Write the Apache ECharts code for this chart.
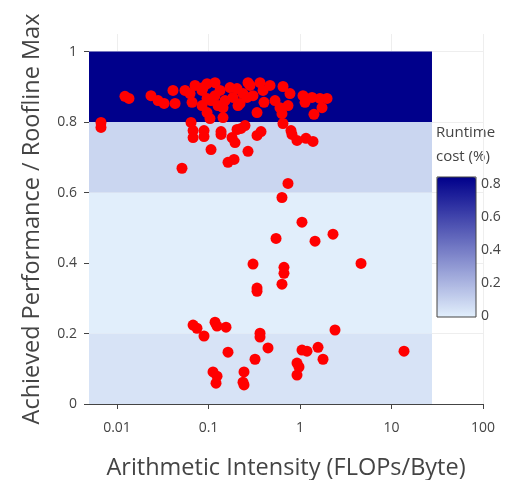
<!DOCTYPE html>
<html>
<head>
<meta charset="utf-8">
<script src="https://cdn.jsdelivr.net/npm/echarts@6/dist/echarts.min.js"></script>
<style>
  html, body { margin: 0; padding: 0; background: #fff; }
  #chart { width: 515px; height: 480px; }
</style>
</head>
<body>
<div id="chart"></div>
<script>
// kernel points: arithmetic intensity (FLOPs/Byte) and achieved fraction of roofline
const intensity = [
  // 0.8 - 1 band
  0.0122, 0.0135, 0.0235, 0.0281, 0.0327, 0.0409, 0.0431, 0.0553, 0.0628, 0.0661,
  0.0849, 0.0871, 0.0964, 0.1178, 0.0964, 0.0849, 0.0964, 0.1038, 0.1336, 0.144,
  0.144, 0.1718, 0.2049, 0.1853, 0.2101, 0.2382, 0.2209, 0.2634, 0.2701, 0.2841,
  0.3389, 0.3655, 0.3942, 0.4042, 0.47, 0.533, 0.604, 0.635, 0.652, 0.739,
  0.777, 1.078, 1.134, 1.353, 1.42, 1.655, 1.74, 1.973, 0.1178, 0.1515,
  0.0712, 0.1065, 0.127, 0.3065,
  // 0.6 - 0.8 band
  0.00668, 0.00668, 0.0644, 0.0678, 0.0678, 0.0893, 0.0893, 0.1065, 0.137, 0.137,
  0.1807, 0.1948, 0.2049, 0.2265, 0.2505, 0.2701, 0.1633, 0.19, 0.3389, 0.3748,
  0.6515, 0.7967, 0.817, 0.927, 1.163, 1.387, 0.0513, 0.739, 0.635,
  // below 0.6
  0.3065, 0.339, 0.339, 0.668, 0.668, 0.635, 0.547, 1.051, 1.459, 2.294,
  4.642, 0.0678, 0.0748, 0.0893, 0.1178, 0.1239, 0.1553, 0.1633, 0.112, 0.1239,
  0.1208, 0.3655, 0.3655, 0.447, 0.3223, 0.2443, 0.2382, 0.2443, 1.051, 1.192,
  1.574, 1.784, 0.927, 0.975, 0.927, 2.413, 13.7
];
const performance = [
  0.873, 0.867, 0.875, 0.861, 0.853, 0.890, 0.853, 0.890, 0.881, 0.856,
  0.890, 0.898, 0.909, 0.912, 0.867, 0.847, 0.827, 0.810, 0.890, 0.841,
  0.813, 0.898, 0.895, 0.870, 0.847, 0.881, 0.853, 0.870, 0.912, 0.904,
  0.827, 0.912, 0.890, 0.856, 0.904, 0.861, 0.841, 0.824, 0.901, 0.847,
  0.881, 0.875, 0.856, 0.870, 0.822, 0.867, 0.841, 0.867, 0.875, 0.861,
  0.904, 0.861, 0.847, 0.875,
  0.799, 0.785, 0.799, 0.776, 0.756, 0.776, 0.759, 0.722, 0.773, 0.765,
  0.756, 0.742, 0.779, 0.782, 0.790, 0.717, 0.686, 0.694, 0.762, 0.773,
  0.796, 0.776, 0.765, 0.748, 0.754, 0.745, 0.669, 0.626, 0.586,
  0.397, 0.329, 0.320, 0.388, 0.371, 0.340, 0.470, 0.516, 0.462, 0.482,
  0.399, 0.224, 0.215, 0.193, 0.232, 0.221, 0.218, 0.147, 0.091, 0.079,
  0.059, 0.201, 0.190, 0.159, 0.127, 0.091, 0.062, 0.054, 0.153, 0.150,
  0.161, 0.127, 0.116, 0.105, 0.082, 0.210, 0.150
];

// background heatmap: runtime cost per performance band
const bandEdges = [0, 0.2, 0.4, 0.6, 0.8, 1];
const bandCost = [0.04, 0.005, 0.005, 0.085, 0.8];
const bandXRange = [0.00494, 27.7];

const xTicks = [0.01, 0.1, 1, 10, 100];
const yTicks = [0, 0.2, 0.4, 0.6, 0.8, 1];
const costTicks = [0, 0.2, 0.4, 0.6, 0.8];

const font = '"Open Sans", "DejaVu Sans", sans-serif';
const textColor = '#444';

let bands = bandCost.map((c, i) => [bandXRange[0], bandXRange[1], bandEdges[i], bandEdges[i + 1], c]);
let points = intensity.map((x, i) => [x, performance[i]]);

let chartDom = document.getElementById('chart');
let myChart = echarts.init(chartDom, null, { renderer: 'canvas' });

let option = {
  animation: false,
  textStyle: { fontFamily: font, color: textColor },
  grid: [
    { left: 89, right: 32, top: 34, bottom: 76, outerBoundsMode: 'none', containLabel: false },
    // colorbar frame + labels
    { left: 437, top: 177, width: 39, height: 140, show: true, z: 10, outerBoundsMode: 'none',
      borderColor: '#444', borderWidth: 1, backgroundColor: 'transparent' }
  ],
  xAxis: [
    {
      type: 'log',
      min: 0.00494,
      max: 100,
      gridIndex: 0,
      name: 'Arithmetic Intensity (FLOPs/Byte)',
      nameLocation: 'middle',
      nameGap: 52,
      nameTextStyle: { fontSize: 23.5, color: textColor, fontFamily: font },
      axisLine: { show: true, lineStyle: { color: '#444', width: 1 } },
      axisTick: { show: true, length: 5, customValues: xTicks, lineStyle: { color: '#444' } },
      axisLabel: { customValues: xTicks, fontSize: 14, color: textColor, margin: 17,
        formatter: v => String(+v.toPrecision(3)) },
      splitLine: { show: true, lineStyle: { color: '#eeeeee', width: 1 } }
    },
    { type: 'value', gridIndex: 1, show: false, min: 0, max: 1 }
  ],
  yAxis: [
    {
      type: 'value',
      min: 0,
      max: 1.05,
      gridIndex: 0,
      name: 'Achieved Performance / Roofline Max',
      nameLocation: 'middle',
      nameGap: 45,
      nameTextStyle: { fontSize: 23.5, color: textColor, fontFamily: font },
      axisLine: { show: false },
      axisTick: { show: true, length: 5, customValues: yTicks, lineStyle: { color: '#444' } },
      axisLabel: { customValues: yTicks, fontSize: 14, color: textColor, margin: 12 },
      splitLine: { show: true, lineStyle: { color: '#eeeeee', width: 1 } }
    },
    {
      type: 'value',
      gridIndex: 1,
      position: 'right',
      min: -0.006,
      max: 0.842,
      axisLine: { show: false },
      axisTick: { show: false },
      splitLine: { show: false },
      axisLabel: { customValues: costTicks, fontSize: 14, color: textColor, margin: 5 }
    }
  ],
  visualMap: {
    type: 'continuous',
    seriesIndex: 0,
    dimension: 4,
    min: 0,
    max: 0.8,
    left: 437,
    top: 177,
    padding: 0,
    itemWidth: 39,
    itemHeight: 140,
    calculable: false,
    text: null,
    inRange: { color: ['#e2effc', '#00008b'] }
  },
  graphic: [
    {
      type: 'text',
      left: 436,
      top: 121,
      style: {
        text: 'Runtime\ncost (%)',
        font: '15px "Open Sans", sans-serif',
        fill: textColor,
        lineHeight: 24
      }
    }
  ],
  series: [
    {
      type: 'custom',
      xAxisIndex: 0,
      yAxisIndex: 0,
      data: bands,
      encode: { x: [0, 1], y: [2, 3] },
      renderItem: function (params, api) {
        let p0 = api.coord([api.value(0), api.value(3)]);
        let p1 = api.coord([api.value(1), api.value(2)]);
        return {
          type: 'rect',
          shape: { x: p0[0], y: p0[1], width: p1[0] - p0[0], height: p1[1] - p0[1] },
          style: { fill: api.visual('color') }
        };
      }
    },
    {
      type: 'scatter',
      xAxisIndex: 0,
      yAxisIndex: 0,
      data: points,
      symbolSize: 11,
      itemStyle: { color: '#ff0000', opacity: 1 },
      z: 5
    }
  ]
};

myChart.setOption(option);
</script>
</body>
</html>
